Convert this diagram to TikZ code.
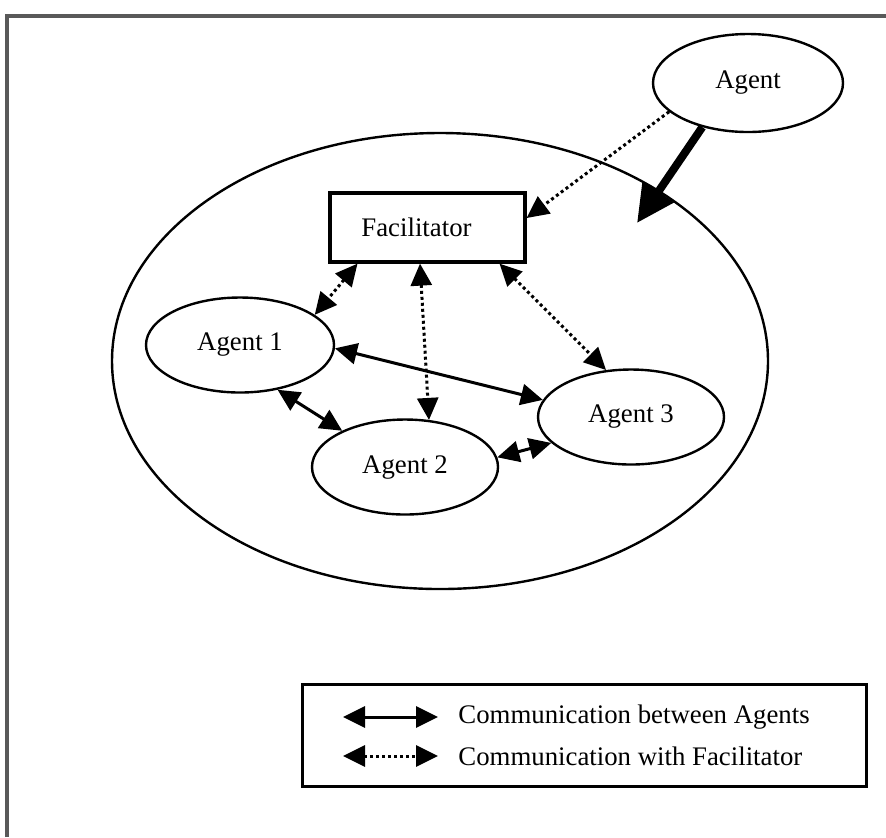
\documentclass[tikz,border=0pt]{standalone}
\usepackage{fontspec}
\setmainfont{Liberation Serif}
\usetikzlibrary{shapes.geometric,arrows.meta}

\tikzset{
  agentnode/.style={draw, ellipse, line width=1.2pt, inner sep=0pt,
    minimum width=94pt, minimum height=47.5pt},
  talk/.style={{Triangle[length=11pt,width=10.5pt]}-{Triangle[length=11pt,width=10.5pt]},
    line width=1.5pt},
  ask/.style={talk, dash pattern=on 1.5pt off 1.5pt},
}

\begin{document}
\begin{tikzpicture}[x=0.5pt,y=-0.5pt,font=\fontsize{13.4}{16}\selectfont]
\useasboundingbox (0,0) rectangle (886,837);

% Frame
\draw[line width=2pt, black!65] (7,837) -- (7,16) -- (886,16);

% System
\node[draw, ellipse, line width=1.2pt, inner sep=0pt,
  minimum width=328pt, minimum height=228pt] (system) at (440,361) {};

% Facilitator
\node[draw, line width=1.6pt, inner sep=0pt, minimum width=97.5pt,
  minimum height=34.5pt] (fac) at (427.5,227.5) {\hspace{-11pt}Facilitator};

% Agents
\node[agentnode, minimum width=95pt, minimum height=49pt] (agent) at (748,83) {Agent};
\node[agentnode] (agent1) at (240,345) {Agent 1};
\node[agentnode, minimum width=93pt] (agent2) at (405,467) {Agent 2};
\node[agentnode, minimum width=93pt] (agent3) at (631,417) {Agent 3};

% New agent joining
\coordinate (drop) at (637,223);
\draw[line width=1.5pt, dash pattern=on 1.5pt off 1.5pt,
  -{Triangle[length=11pt,width=10.5pt]}] (agent.200) -- ([yshift=4.75pt]fac.east);
\draw[line width=4pt, -{Triangle[length=19pt,width=18pt]}] (agent.224) -- (drop);

% Agent to agent
\draw[talk] (agent1.358) -- (agent3.169);
\draw[talk] (agent1.310) -- (agent2.150);
\draw[talk] (agent2.6) -- (agent3.198);

% Agent to facilitator
\draw[ask] ([xshift=-35pt]fac.south) -- (agent1.22);
\draw[ask] ([xshift=-3.75pt]fac.south) -- (agent2.63);
\draw[ask] ([xshift=36pt]fac.south) -- (agent3.118);

% Legend
\node[draw, line width=1.5pt, inner sep=0pt, minimum width=282pt,
  minimum height=51pt] (legend) at (584,735) {};
\coordinate (s1) at (343,717);
\coordinate (s2) at (438,717);
\coordinate (d1) at (343,756);
\coordinate (d2) at (438,756);
\draw[talk] (s1) -- (s2);
\draw[ask] (d1) -- (d2);
\node[anchor=west, inner sep=0pt] (ltalk) at (458,717) {Communication between Agents};
\node[anchor=west, inner sep=0pt] (lask) at (458,756) {Communication with Facilitator};
\end{tikzpicture}
\end{document}
